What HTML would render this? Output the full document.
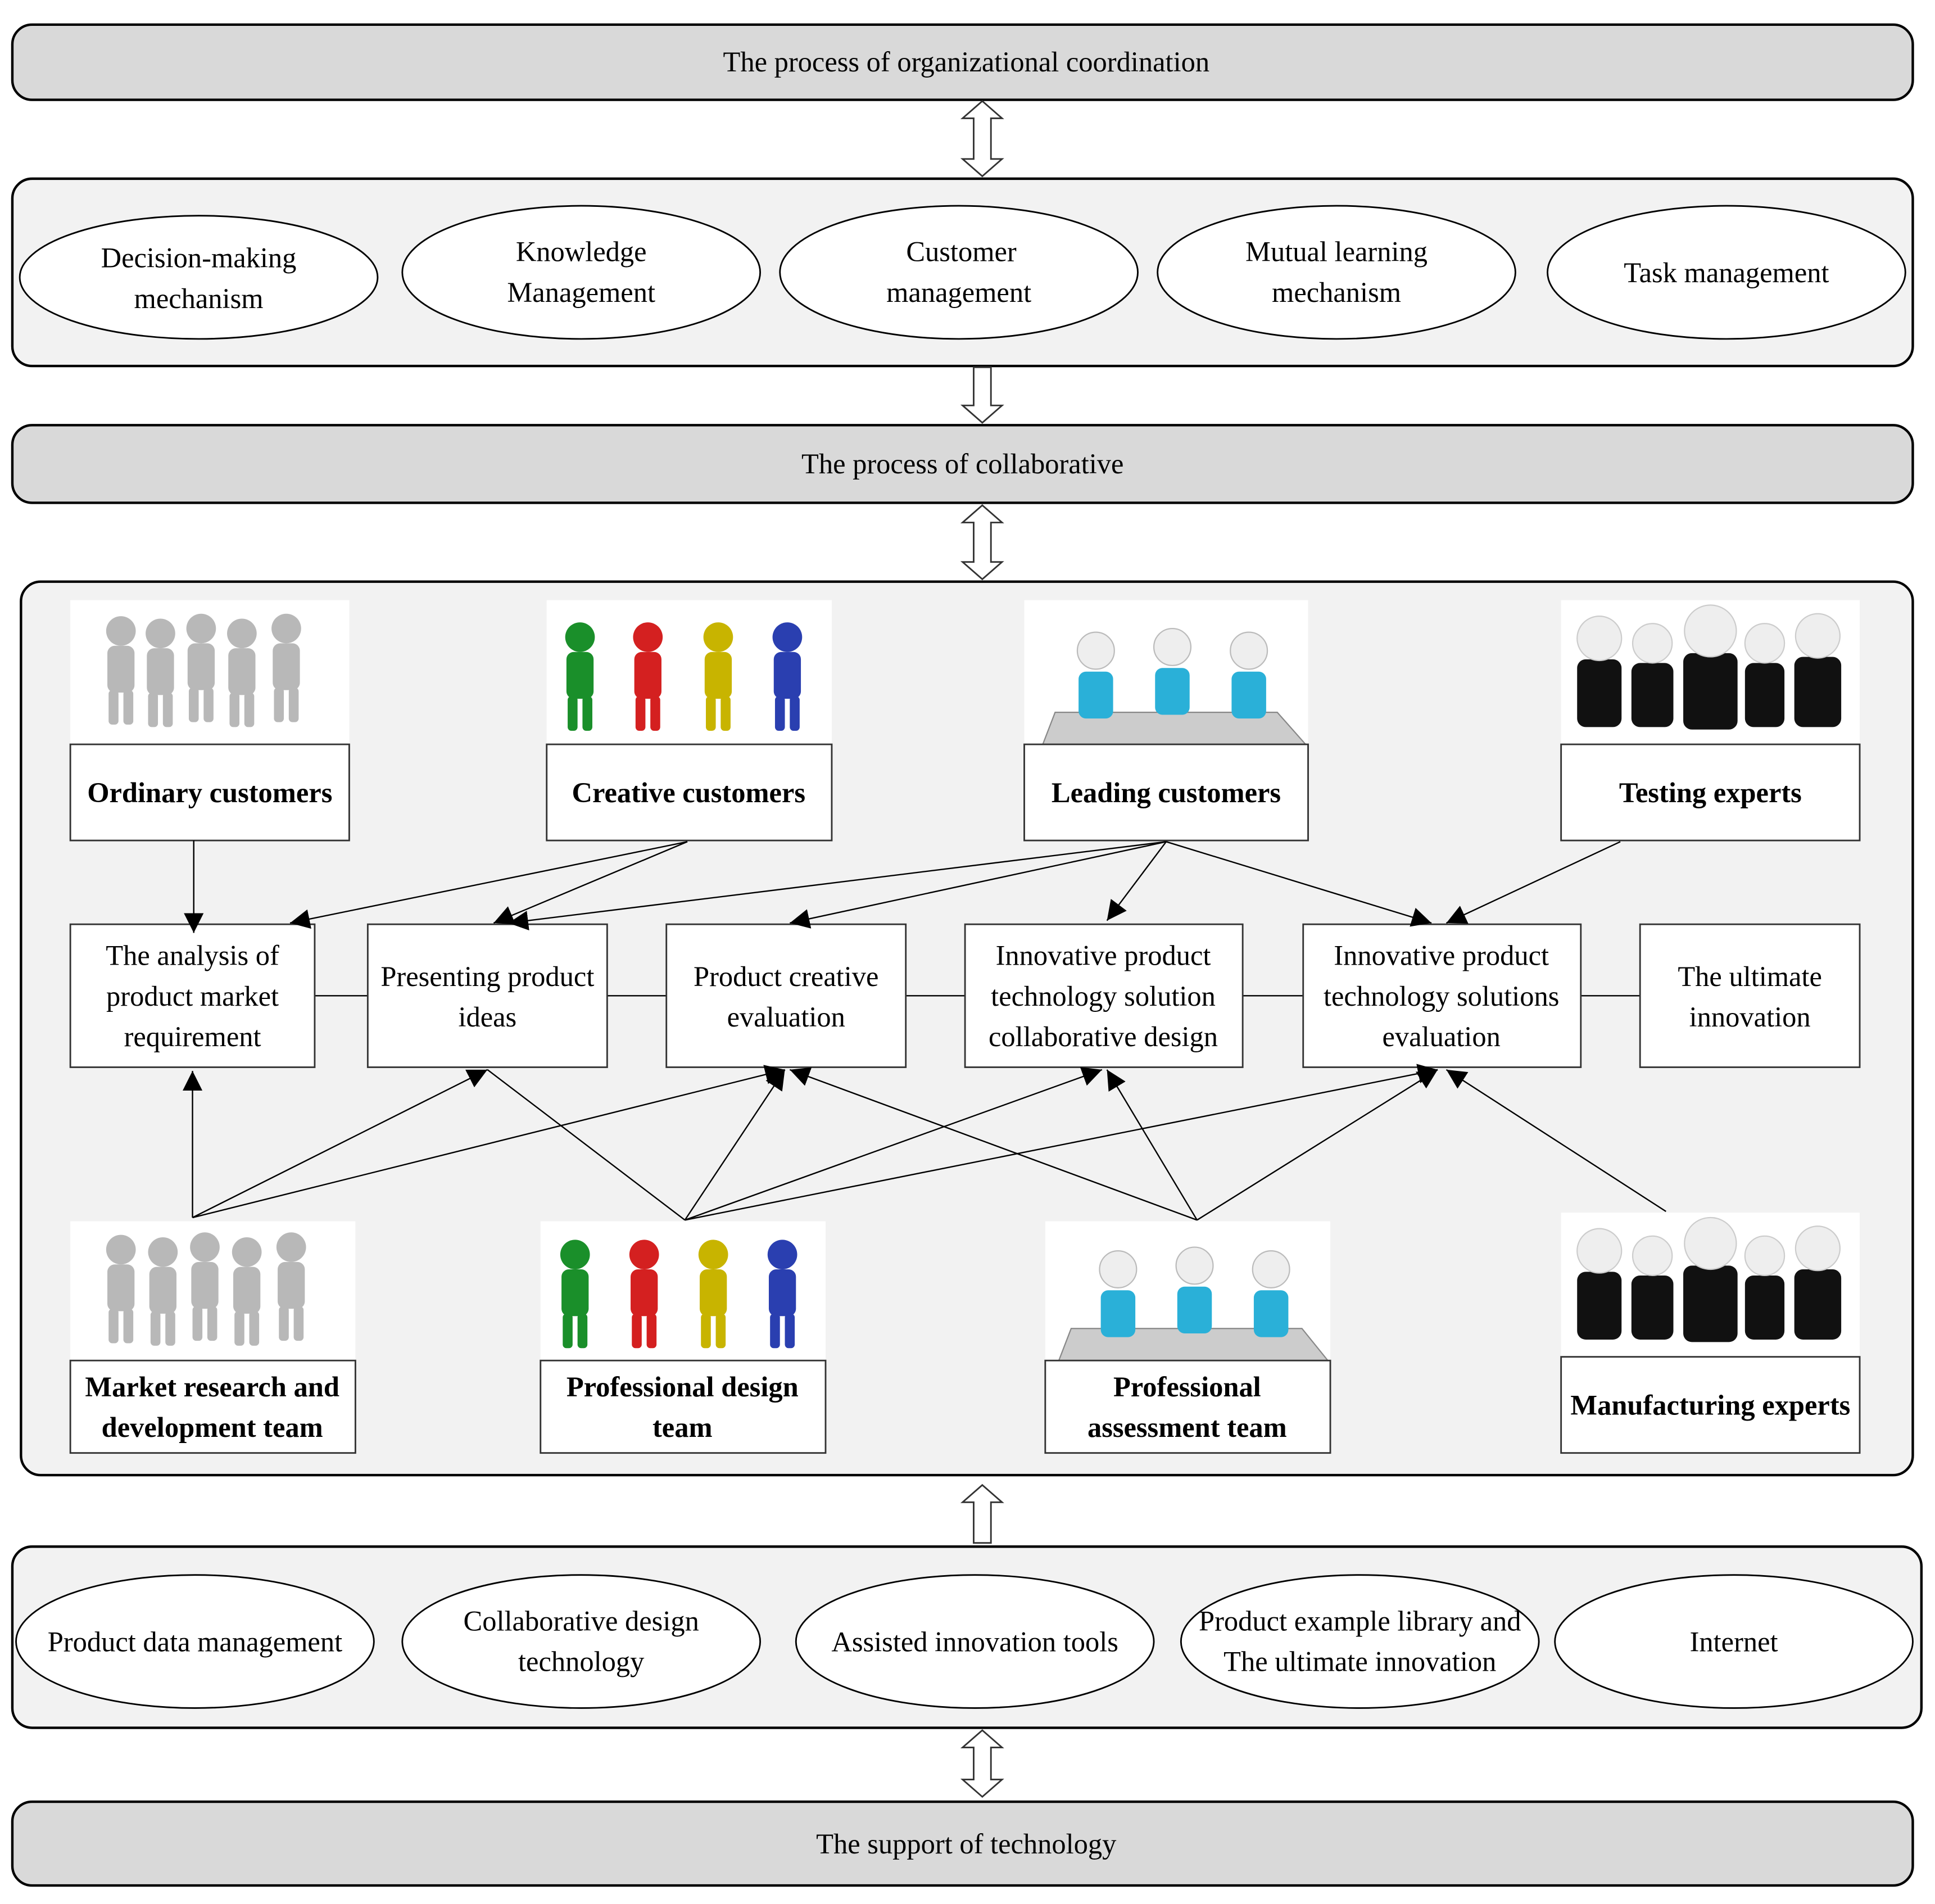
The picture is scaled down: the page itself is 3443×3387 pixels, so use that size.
<!DOCTYPE html>
<html><head><meta charset="utf-8"><style>
html,body{margin:0;padding:0;background:#fff}
svg{display:block}
text{font-family:"Liberation Serif",serif;fill:#000}
.t{font-size:23px;text-anchor:middle}
.b{font-size:23px;font-weight:bold;text-anchor:middle}
.bar{fill:#d9d9d9;stroke:#000;stroke-width:2}
.pan{fill:#f2f2f2;stroke:#000;stroke-width:2}
.el{fill:#fff;stroke:#000;stroke-width:1.3}
.bx{fill:#fff;stroke:#333;stroke-width:1.3}
.ar{fill:#fff;stroke:#333;stroke-width:1.3}
.ln{stroke:#000;stroke-width:1.1;fill:none}
.a{stroke:#000;stroke-width:1.1;fill:none;marker-end:url(#m)}
</style></head><body>
<svg width="3443" height="3387" viewBox="0 0 1568 1545" preserveAspectRatio="none" xmlns="http://www.w3.org/2000/svg">
<defs>
<marker id="m" viewBox="0 0 10 10" refX="10" refY="5" markerWidth="16" markerHeight="16" markerUnits="userSpaceOnUse" orient="auto">
<path d="M0,0 L10,5 L0,10 Z" fill="#000"/></marker>
<g id="p"><circle cx="0" cy="-38" r="12"/><rect x="-11" y="-26" width="22" height="38" rx="6"/><rect x="-10" y="10" width="8" height="28" rx="3"/><rect x="2" y="10" width="8" height="28" rx="3"/></g>
</defs>

<rect class="bar" x="10" y="20" width="1540" height="61" rx="16"/>
<text class="t" x="783" y="58">The process of organizational coordination</text>
<path class="ar" d="M796,82 L812,96 L803,96 L803,129 L812,129 L796,143 L780,129 L789,129 L789,96 L780,96 Z"/>

<rect class="pan" x="10" y="145" width="1540" height="152" rx="16"/>
<ellipse class="el" cx="161" cy="225" rx="145" ry="50"/><text class="t" x="161" y="217">Decision-making</text><text class="t" x="161" y="250">mechanism</text>
<ellipse class="el" cx="471" cy="221" rx="145" ry="54"/><text class="t" x="471" y="212">Knowledge</text><text class="t" x="471" y="245">Management</text>
<ellipse class="el" cx="777" cy="221" rx="145" ry="54"/><text class="t" x="779" y="212">Customer</text><text class="t" x="777" y="245">management</text>
<ellipse class="el" cx="1083" cy="221" rx="145" ry="54"/><text class="t" x="1083" y="212">Mutual learning</text><text class="t" x="1083" y="245">mechanism</text>
<ellipse class="el" cx="1399" cy="221" rx="145" ry="54"/><text class="t" x="1399" y="229">Task management</text>

<path class="ar" d="M789,298 L803,298 L803,329 L812,329 L796,343 L780,329 L789,329 Z"/>

<rect class="bar" x="10" y="345" width="1540" height="63" rx="16"/>
<text class="t" x="780" y="384">The process of collaborative</text>
<path class="ar" d="M796,410 L812,424 L803,424 L803,456 L812,456 L796,470 L780,456 L789,456 L789,424 L780,424 Z"/>

<rect class="pan" x="17" y="472" width="1533" height="725" rx="16"/>

<!-- images -->
<rect x="57" y="487" width="226" height="117" fill="#fff"/>
<g fill="#b8b8b8"><use href="#p" x="98" y="550"/><use href="#p" x="130" y="552"/><use href="#p" x="163" y="548"/><use href="#p" x="196" y="552"/><use href="#p" x="232" y="548"/></g>
<rect x="443" y="487" width="231" height="117" fill="#fff"/>
<use href="#p" x="470" y="555" fill="#1a8f2a"/><use href="#p" x="525" y="555" fill="#d42020"/><use href="#p" x="582" y="555" fill="#c8b400"/><use href="#p" x="638" y="555" fill="#2a3fb0"/>
<rect x="830" y="487" width="230" height="117" fill="#fff"/>
<path d="M845,604 L855,578 L1035,578 L1058,604 Z" fill="#ccc" stroke="#888"/>
<g><circle cx="888" cy="528" r="15" fill="#eee" stroke="#bbb"/><rect x="874" y="545" width="28" height="38" rx="6" fill="#2ab0d8"/>
<circle cx="950" cy="525" r="15" fill="#eee" stroke="#bbb"/><rect x="936" y="542" width="28" height="38" rx="6" fill="#2ab0d8"/>
<circle cx="1012" cy="528" r="15" fill="#eee" stroke="#bbb"/><rect x="998" y="545" width="28" height="38" rx="6" fill="#2ab0d8"/></g>
<rect x="1265" y="487" width="242" height="117" fill="#fff"/>
<g fill="#111"><rect x="1278" y="535" width="36" height="55" rx="7"/><rect x="1322" y="538" width="34" height="52" rx="7"/><rect x="1364" y="530" width="44" height="62" rx="7"/><rect x="1414" y="538" width="32" height="52" rx="7"/><rect x="1454" y="533" width="38" height="57" rx="7"/></g>
<g fill="#eee" stroke="#ccc"><circle cx="1296" cy="518" r="18"/><circle cx="1339" cy="522" r="16"/><circle cx="1386" cy="512" r="21"/><circle cx="1430" cy="522" r="16"/><circle cx="1473" cy="516" r="18"/></g>

<rect class="bx" x="57" y="604" width="226" height="78"/><text class="b" x="170" y="651">Ordinary customers</text>
<rect class="bx" x="443" y="604" width="231" height="78"/><text class="b" x="558" y="651">Creative customers</text>
<rect class="bx" x="830" y="604" width="230" height="78"/><text class="b" x="945" y="651">Leading customers</text>
<rect class="bx" x="1265" y="604" width="242" height="78"/><text class="b" x="1386" y="651">Testing experts</text>

<!-- middle row -->
<line class="ln" x1="255" y1="808" x2="1329" y2="808"/>
<rect class="bx" x="57" y="750" width="198" height="116"/><text class="t" x="156" y="783">The analysis of</text><text class="t" x="156" y="816">product market</text><text class="t" x="156" y="849">requirement</text>
<rect class="bx" x="298" y="750" width="194" height="116"/><text class="t" x="395" y="800">Presenting product</text><text class="t" x="395" y="833">ideas</text>
<rect class="bx" x="540" y="750" width="194" height="116"/><text class="t" x="637" y="800">Product creative</text><text class="t" x="637" y="833">evaluation</text>
<rect class="bx" x="782" y="750" width="225" height="116"/><text class="t" x="894" y="783">Innovative product</text><text class="t" x="894" y="816">technology solution</text><text class="t" x="894" y="849">collaborative design</text>
<rect class="bx" x="1056" y="750" width="225" height="116"/><text class="t" x="1168" y="783">Innovative product</text><text class="t" x="1168" y="816">technology solutions</text><text class="t" x="1168" y="849">evaluation</text>
<rect class="bx" x="1329" y="750" width="178" height="116"/><text class="t" x="1418" y="800">The ultimate</text><text class="t" x="1418" y="833">innovation</text>

<!-- arrows top -->
<line class="a" x1="157" y1="682" x2="157" y2="757"/>
<line class="a" x1="557" y1="683" x2="235" y2="749"/>
<line class="a" x1="557" y1="683" x2="400" y2="749"/>
<line class="a" x1="945" y1="683" x2="412" y2="749"/>
<line class="a" x1="945" y1="683" x2="640" y2="749"/>
<line class="a" x1="945" y1="683" x2="897" y2="747"/>
<line class="a" x1="945" y1="683" x2="1160" y2="749"/>
<line class="a" x1="1313" y1="683" x2="1172" y2="749"/>
<!-- arrows bottom -->
<line class="a" x1="156" y1="988" x2="156" y2="869"/>
<line class="a" x1="156" y1="988" x2="395" y2="868"/>
<line class="a" x1="156" y1="988" x2="636" y2="868"/>
<line class="ln" x1="555" y1="990" x2="395" y2="868"/>
<line class="a" x1="555" y1="990" x2="636" y2="868"/>
<line class="a" x1="555" y1="990" x2="893" y2="868"/>
<line class="a" x1="555" y1="990" x2="1165" y2="868"/>
<line class="a" x1="970" y1="990" x2="640" y2="868"/>
<line class="a" x1="970" y1="990" x2="897" y2="868"/>
<line class="a" x1="970" y1="990" x2="1165" y2="868"/>
<line class="a" x1="1350" y1="983" x2="1172" y2="868"/>

<!-- bottom images -->
<rect x="57" y="991" width="231" height="113" fill="#fff"/>
<g fill="#b8b8b8"><use href="#p" x="98" y="1052"/><use href="#p" x="132" y="1054"/><use href="#p" x="166" y="1050"/><use href="#p" x="200" y="1054"/><use href="#p" x="236" y="1050"/></g>
<rect x="438" y="991" width="231" height="113" fill="#fff"/>
<use href="#p" x="466" y="1056" fill="#1a8f2a"/><use href="#p" x="522" y="1056" fill="#d42020"/><use href="#p" x="578" y="1056" fill="#c8b400"/><use href="#p" x="634" y="1056" fill="#2a3fb0"/>
<rect x="847" y="991" width="231" height="113" fill="#fff"/>
<path d="M858,1104 L868,1078 L1055,1078 L1076,1104 Z" fill="#ccc" stroke="#888"/>
<circle cx="906" cy="1030" r="15" fill="#eee" stroke="#bbb"/><rect x="892" y="1047" width="28" height="38" rx="6" fill="#2ab0d8"/>
<circle cx="968" cy="1027" r="15" fill="#eee" stroke="#bbb"/><rect x="954" y="1044" width="28" height="38" rx="6" fill="#2ab0d8"/>
<circle cx="1030" cy="1030" r="15" fill="#eee" stroke="#bbb"/><rect x="1016" y="1047" width="28" height="38" rx="6" fill="#2ab0d8"/>
<rect x="1265" y="984" width="242" height="117" fill="#fff"/>
<g fill="#111"><rect x="1278" y="1032" width="36" height="55" rx="7"/><rect x="1322" y="1035" width="34" height="52" rx="7"/><rect x="1364" y="1027" width="44" height="62" rx="7"/><rect x="1414" y="1035" width="32" height="52" rx="7"/><rect x="1454" y="1030" width="38" height="57" rx="7"/></g>
<g fill="#eee" stroke="#ccc"><circle cx="1296" cy="1015" r="18"/><circle cx="1339" cy="1019" r="16"/><circle cx="1386" cy="1009" r="21"/><circle cx="1430" cy="1019" r="16"/><circle cx="1473" cy="1013" r="18"/></g>

<rect class="bx" x="57" y="1104" width="231" height="75"/><text class="b" x="172" y="1133">Market research and</text><text class="b" x="172" y="1166">development team</text>
<rect class="bx" x="438" y="1104" width="231" height="75"/><text class="b" x="553" y="1133">Professional design</text><text class="b" x="553" y="1166">team</text>
<rect class="bx" x="847" y="1104" width="231" height="75"/><text class="b" x="962" y="1133">Professional</text><text class="b" x="962" y="1166">assessment team</text>
<rect class="bx" x="1265" y="1101" width="242" height="78"/><text class="b" x="1386" y="1148">Manufacturing experts</text>

<path class="ar" d="M796,1205 L812,1219 L803,1219 L803,1252 L789,1252 L789,1219 L780,1219 Z"/>

<rect class="pan" x="10" y="1255" width="1547" height="147" rx="16"/>
<ellipse class="el" cx="158" cy="1332" rx="145" ry="54"/><text class="t" x="158" y="1340">Product data management</text>
<ellipse class="el" cx="471" cy="1332" rx="145" ry="54"/><text class="t" x="471" y="1323">Collaborative design</text><text class="t" x="471" y="1356">technology</text>
<ellipse class="el" cx="790" cy="1332" rx="145" ry="54"/><text class="t" x="790" y="1340">Assisted innovation tools</text>
<ellipse class="el" cx="1102" cy="1332" rx="145" ry="54"/><text class="t" x="1102" y="1323">Product example library and</text><text class="t" x="1102" y="1356">The ultimate innovation</text>
<ellipse class="el" cx="1405" cy="1332" rx="145" ry="54"/><text class="t" x="1405" y="1340">Internet</text>

<path class="ar" d="M796,1404 L812,1418 L803,1418 L803,1444 L812,1444 L796,1458 L780,1444 L789,1444 L789,1418 L780,1418 Z"/>
<rect class="bar" x="10" y="1462" width="1540" height="68" rx="16"/>
<text class="t" x="783" y="1504">The support of technology</text>
</svg>
</body></html>
